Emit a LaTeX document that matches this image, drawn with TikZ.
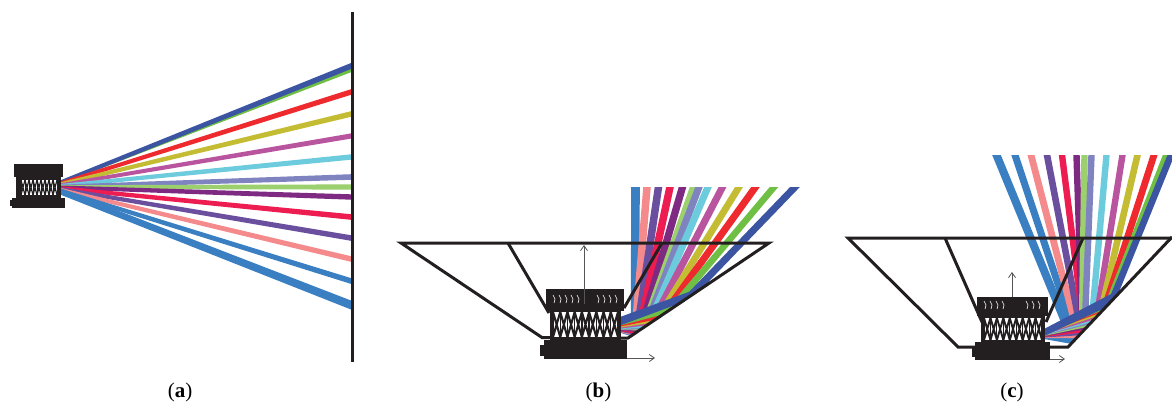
\documentclass[tikz,border=0pt]{standalone}
\usepackage{fontspec}
\setmainfont{Liberation Serif}
\usetikzlibrary{arrows.meta}
\definecolor{ink}{HTML}{231F20}
\definecolor{arrowgrey}{HTML}{555555}
\definecolor{cblue}{HTML}{3A7FC1}
\definecolor{csalmon}{HTML}{F58A8C}
\definecolor{cviolet}{HTML}{6A4F9E}
\definecolor{ccrimson}{HTML}{ED1C51}
\definecolor{cpurple}{HTML}{7F2A82}
\definecolor{clgreen}{HTML}{9CCF6E}
\definecolor{cperi}{HTML}{7F84C0}
\definecolor{ccyan}{HTML}{6CCBDC}
\definecolor{cpink}{HTML}{B9559F}
\definecolor{colive}{HTML}{C4BC32}
\definecolor{cred}{HTML}{EE2A2F}
\definecolor{cgreen}{HTML}{6FBF44}
\definecolor{cdblue}{HTML}{3B55A3}
\tikzset{
  mirror/.style={draw=ink,line width=3pt,line join=miter},
  axisarrow/.style={draw=arrowgrey,line width=0.8pt,-{Straight Barb[length=5pt,width=7pt]}},
  caption/.style={inner sep=0pt,font=\fontsize{21}{24}\selectfont},
  block/.style={fill=ink,draw=none}
}
% spring: x0,y0,x1,y1,n,linewidth
\newcommand{\springpack}[6]{%
  \fill[white] (#1,#2) rectangle (#3,#4);
  \pgfmathsetmacro{\stepx}{(#3-#1)/#5}
  \pgfmathtruncatemacro{\lastn}{#5-1}
  \foreach \k in {0,...,\lastn}{
    \pgfmathsetmacro{\xa}{#1+\k*\stepx}
    \pgfmathsetmacro{\xb}{\xa+\stepx}
    \draw[ink,line width=#6pt] (\xa,#2) -- (\xb,#4) (\xb,#2) -- (\xa,#4);
    \draw[ink,line width=#6pt*0.6] (\xa,#2) -- (\xa,#4);
  }
  \draw[ink,line width=#6pt*0.6] (#3,#2) -- (#3,#4);
}
\begin{document}
\begin{tikzpicture}[x=1pt,y=-1pt]
\useasboundingbox (0,0) rectangle (1172,405);
\fill[white] (0,0) rectangle (1172,405);

%% ---------- panel (a)
\foreach \c/\y/\h in {cgreen/70/2.2,cdblue/66/3,cred/92/2.8,colive/114/2.8,cpink/136/2.6,ccyan/157/2.7,cperi/177/2.8,clgreen/187/2.6,cpurple/197/2.7,ccrimson/217/2.8,cviolet/238/2.8,csalmon/259/2.8,cblue/281/2.9,cblue/305/4.5}{
  \fill[\c] (61,{187+(\y-187)*0.04-\h*0.7}) -- (351,{\y-\h}) -- (351,{\y+\h}) -- (61,{187+(\y-187)*0.04+\h*0.7}) -- cycle;
}
\draw[draw=ink,line width=3pt] (352,12) coordinate (wallTop) -- (352,362) coordinate (wallBot);
% body a
\fill[block] (14,164) rectangle (63,177);
\fill[block] (16,177) rectangle (61,198);
\fill[block] (12,198) rectangle (65,208);
\fill[block] (10,200) rectangle (14,206);
\springpack{21}{180}{57}{195}{9}{1.2}

%% ---------- panel (b)
\begin{scope}
\clip (600,187) -- (810,187) -- (769,243) -- (628,338) -- (600,338) -- cycle;
\foreach \c/\t/\px/\py/\w in {cblue/635.5/635/334/8.6,csalmon/647/635/333/7.5,cviolet/658.5/637/332/7.5,ccrimson/670/639/331/7.5,cpurple/682.5/641/329/7.3,clgreen/693.5/644/327/7,cperi/699/646/326/7,ccyan/708/649/324/7,cpink/722.5/653/321/7,colive/739/658/318/6.8,cred/755.5/664/314/7,cgreen/774/672/308/6.5,cdblue/795/688/298/7}{
  \draw[\c,line width=\w pt] ({\t+(\t-\px)*0.1},{187-(\py-187)*0.1}) -- (\px,\py);
}
\foreach \c/\px/\py/\s/\h in {cblue/634/334/332/1.2,csalmon/635/333/331.5/1.2,cviolet/637/332/331/1.2,ccrimson/639/331/330.5/1.2,cpurple/641/329/330/1.3,clgreen/644/327/329.5/1.4,cperi/646/326/329/1.4,ccyan/649/324/328.5/1.5,cpink/653/321/328/1.6,colive/658/318/327/1.8,cred/664/314/326/2,cgreen/672/308/325/2.2}{
  \fill[\c] (620,{\s-0.6}) -- (\px,{\py-\h}) -- (\px,{\py+\h+2}) -- (620,{\s+0.6}) -- cycle;
}
\fill[cdblue] (620,317) -- (690,291.5) -- (694,298) -- (620,325.5) -- cycle;
\end{scope}
\draw[mirror] (552,337.5) -- (542,337.5) coordinate (bl) -- (401,243) coordinate (btl) -- (769,243) coordinate (btr) -- (628,338) coordinate (br) -- (620,338);
\draw[mirror] (508,243) -- (549,313);
\draw[mirror] (662,243) -- (624,308);
% body b
\fill[block] (546,289) rectangle (624,311);
\fill[block] (550,311) rectangle (621,342);
\fill[block] (544,340) rectangle (627,359);
\fill[block] (540,345) rectangle (546,356);
\springpack{553}{312}{618}{337}{9}{2.1}
\foreach \q in {553,559,...,577,597,603,...,615}{
  \draw[white,line width=0.6pt] (\q,295) -- ({\q+2},299) -- ({\q+1},303);
}
\draw[axisarrow] (584,304) coordinate (bup) -- (584,245) coordinate (bupend);
\draw[axisarrow] (627,358) coordinate (brt) -- (655,358) coordinate (brtend);

%% ---------- panel (c)
\begin{scope}
\clip (980,155) -- (1172,155) -- (1172,238) -- (1068,346) -- (1040,346) -- cycle;
\foreach \c/\t/\px/\py/\w in {cblue/996.5/1073/341/8,cblue/1015/1076/338/7,csalmon/1031/1078/335/6.8,cviolet/1047/1081/332/6.6,ccrimson/1062/1084/329/6.4,cpurple/1076.5/1082/326/6.4,clgreen/1084.5/1082/323/6.4,cperi/1091.5/1085/320/6.4,ccyan/1106.5/1092/318/6.4,cpink/1122.5/1097/315/6.4,colive/1137.5/1101/311/6.6,cred/1154/1105/307/6.8,cgreen/1166/1108/304/6,cdblue/1171/1113/298/6.6}{
  \draw[\c,line width=\w pt] ({\t+(\t-\px)*0.1},{155-(\py-155)*0.1}) -- (\px,\py);
}
\foreach \c/\px/\py/\s/\h in {cblue/1073/341/338.5/1.2,cblue/1076/338/338/1.2,csalmon/1078/335/337.5/1.2,cviolet/1081/332/337/1.2,ccrimson/1084/329/336.5/1.2,cpurple/1086/326/336/1.3,clgreen/1090/323/335.5/1.3,cperi/1093/320/335/1.4,ccyan/1094/318/334.5/1.5,cpink/1097/315/334/1.6,colive/1101/311/333.5/1.8,cred/1105/307/333/2,cgreen/1108/304/332.5/2.2}{
  \fill[\c] (1044,{\s-0.5}) -- (\px,{\py-\h}) -- (\px,{\py+\h+2}) -- (1044,{\s+0.5}) -- cycle;
}
\fill[cdblue] (1044,329) -- (1113,293) -- (1118,302) -- (1044,336) -- cycle;
\end{scope}
\draw[mirror] (978,347) -- (958,347) coordinate (cl) -- (848,238) coordinate (ctl) -- (1172,238) coordinate (ctr);
\draw[mirror] (1172,237) -- (1068,347) coordinate (cr) -- (1050,347);
\draw[mirror] (945,238) -- (982,322);
\draw[mirror] (1083,238) -- (1046,322);
% body c
\fill[block] (977,297) rectangle (1048,316);
\fill[block] (981,316) rectangle (1045,342);
\fill[block] (975,342) rectangle (1050,360);
\fill[block] (972,346) rectangle (976,357);
\springpack{984}{318}{1042}{340}{9}{1.9}
\foreach \q in {984,990,...,1002,1026,1032,1038}{
  \draw[white,line width=0.6pt] (\q,301) -- ({\q+2},305) -- ({\q+1},309);
}
\draw[axisarrow] (1012,297) coordinate (cup) -- (1012,272) coordinate (cupend);
\draw[axisarrow] (1050,359) coordinate (crt) -- (1065,359) coordinate (crtend);

%% ---------- captions
\node[caption] (capa) at (180,392) {(\textbf{a})};
\node[caption] (capb) at (598.5,392) {(\textbf{b})};
\node[caption] (capc) at (1012,392) {(\textbf{c})};
\end{tikzpicture}
\end{document}
